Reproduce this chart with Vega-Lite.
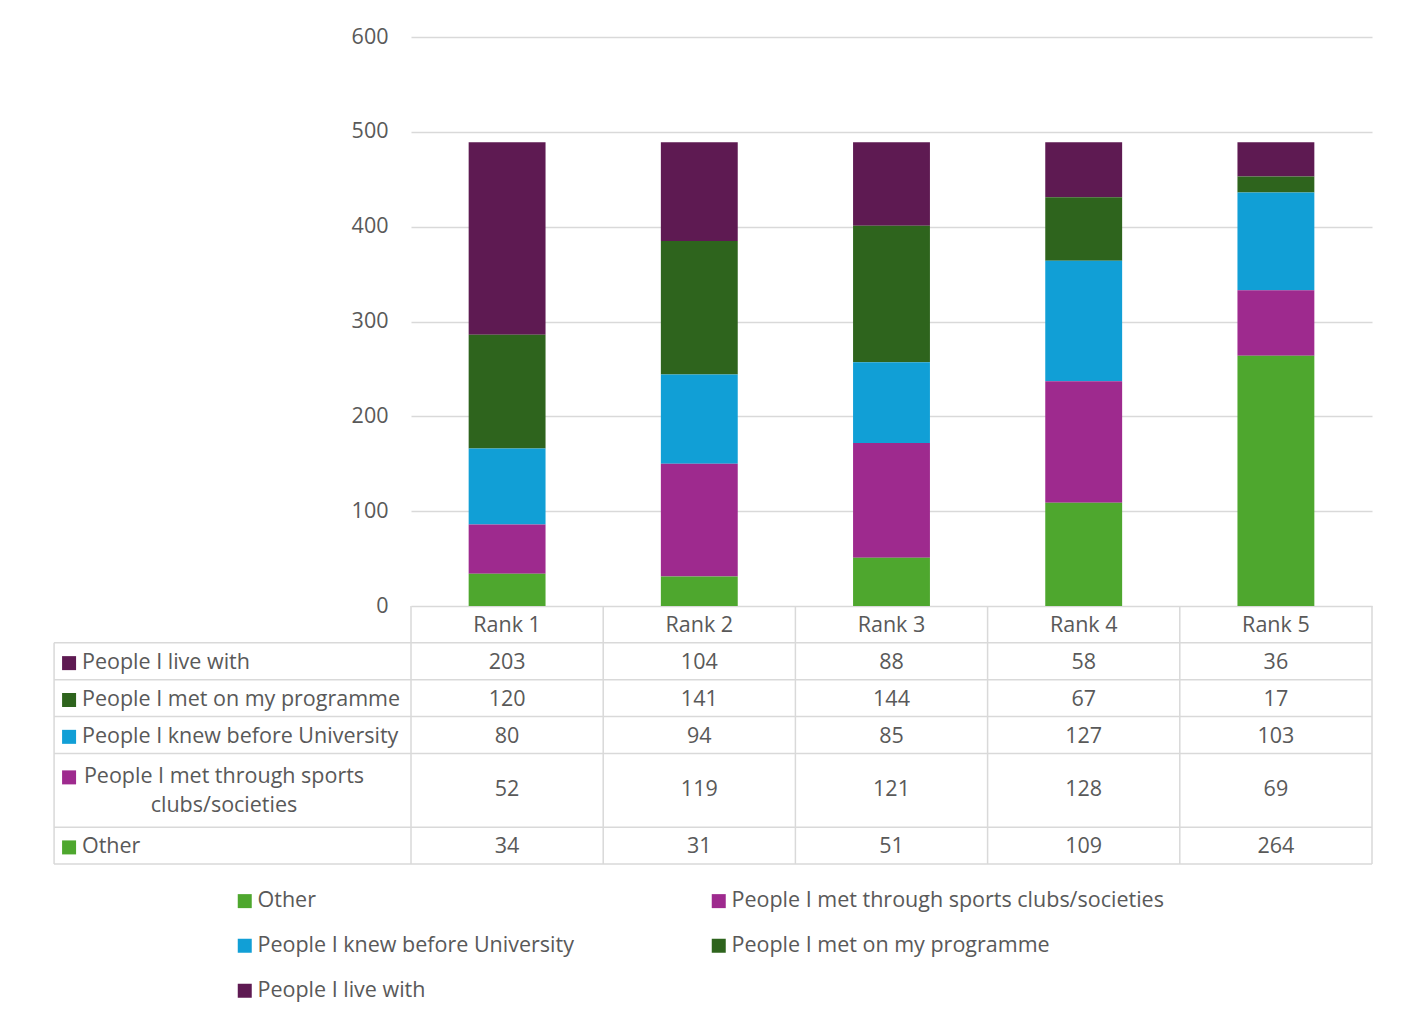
{
  "$schema": "https://vega.github.io/schema/vega-lite/v6.json",
  "padding": {"left": 53, "top": 26, "right": 0, "bottom": 0},
  "background": "white",
  "config": {"font": "Open Sans", "view": {"stroke": null}},
  "datasets": {
    "cells": [
      {"rank": "Rank 1", "series": "People I live with", "value": 203},
      {"rank": "Rank 1", "series": "People I met on my programme", "value": 120},
      {"rank": "Rank 1", "series": "People I knew before University", "value": 80},
      {"rank": "Rank 1", "series": "People I met through sports clubs/societies", "value": 52},
      {"rank": "Rank 1", "series": "Other", "value": 34},
      {"rank": "Rank 2", "series": "People I live with", "value": 104},
      {"rank": "Rank 2", "series": "People I met on my programme", "value": 141},
      {"rank": "Rank 2", "series": "People I knew before University", "value": 94},
      {"rank": "Rank 2", "series": "People I met through sports clubs/societies", "value": 119},
      {"rank": "Rank 2", "series": "Other", "value": 31},
      {"rank": "Rank 3", "series": "People I live with", "value": 88},
      {"rank": "Rank 3", "series": "People I met on my programme", "value": 144},
      {"rank": "Rank 3", "series": "People I knew before University", "value": 85},
      {"rank": "Rank 3", "series": "People I met through sports clubs/societies", "value": 121},
      {"rank": "Rank 3", "series": "Other", "value": 51},
      {"rank": "Rank 4", "series": "People I live with", "value": 58},
      {"rank": "Rank 4", "series": "People I met on my programme", "value": 67},
      {"rank": "Rank 4", "series": "People I knew before University", "value": 127},
      {"rank": "Rank 4", "series": "People I met through sports clubs/societies", "value": 128},
      {"rank": "Rank 4", "series": "Other", "value": 109},
      {"rank": "Rank 5", "series": "People I live with", "value": 36},
      {"rank": "Rank 5", "series": "People I met on my programme", "value": 17},
      {"rank": "Rank 5", "series": "People I knew before University", "value": 103},
      {"rank": "Rank 5", "series": "People I met through sports clubs/societies", "value": 69},
      {"rank": "Rank 5", "series": "Other", "value": 264}
    ],
    "ranks": [
      {"rank": "Rank 1"}, {"rank": "Rank 2"}, {"rank": "Rank 3"}, {"rank": "Rank 4"}, {"rank": "Rank 5"}
    ],
    "series": [
      {"series": "People I live with", "label": "People I live with"},
      {"series": "People I met on my programme", "label": "People I met on my programme"},
      {"series": "People I knew before University", "label": "People I knew before University"},
      {"series": "People I met through sports clubs/societies", "label": "People I met through sports\nclubs/societies"},
      {"series": "Other", "label": "Other"}
    ]
  },
  "spacing": 0,
  "bounds": "flush",
  "resolve": {"scale": {"color": "shared"}, "legend": {"color": "shared"}},
  "vconcat": [
    {
      "width": 1318,
      "height": 569,
      "data": {"name": "cells"},
      "transform": [
        {"calculate": "indexof(['Other', 'People I met through sports clubs/societies', 'People I knew before University', 'People I met on my programme', 'People I live with'], datum.series)", "as": "stack_order"}
      ],
      "mark": {"type": "bar", "width": {"band": 0.4}},
      "encoding": {
        "x": {
          "field": "rank", "type": "nominal",
          "scale": {"type": "band", "domain": ["Rank 1", "Rank 2", "Rank 3", "Rank 4", "Rank 5"], "range": [357, 1318], "paddingInner": 0, "paddingOuter": 0},
          "axis": null
        },
        "y": {
          "field": "value", "type": "quantitative", "stack": "zero",
          "scale": {"domain": [0, 600], "nice": false},
          "axis": {
            "values": [0, 100, 200, 300, 400, 500, 600],
            "grid": true, "gridColor": "#d9d9d9", "gridWidth": 1.5,
            "domain": false, "ticks": false,
            "labelFontSize": 21.5, "labelColor": "#595959", "labelFont": "Open Sans",
            "labelPadding": 23, "offset": -357, "title": null
          }
        },
        "order": {"field": "stack_order", "type": "quantitative", "sort": "ascending"},
        "color": {
          "field": "series", "type": "nominal",
          "scale": {
            "domain": ["Other", "People I met through sports clubs/societies", "People I knew before University", "People I met on my programme", "People I live with"],
            "range": ["#4ea72e", "#9e2a8e", "#119fd6", "#2e641d", "#5e1a52"]
          },
          "legend": {
            "title": null, "orient": "none", "legendX": 180, "legendY": 853,
            "columns": 2, "direction": "horizontal",
            "symbolType": "square", "symbolSize": 196, "symbolStrokeWidth": 0,
            "labelFontSize": 21.5, "labelColor": "#595959", "labelFont": "Open Sans",
            "rowPadding": 22, "columnPadding": 134, "labelOffset": 2, "padding": 0, "labelLimit": 700
          }
        }
      }
    },
    {
      "width": 1318,
      "height": 258,
      "layer": [
        {
          "data": {"name": "ranks"},
          "mark": {"type": "rule", "color": "#d9d9d9", "strokeWidth": 1.5},
          "encoding": {
            "x": {
              "field": "rank", "type": "nominal", "bandPosition": 0,
              "scale": {"type": "band", "domain": ["Rank 1", "Rank 2", "Rank 3", "Rank 4", "Rank 5"], "range": [357, 1318], "paddingInner": 0, "paddingOuter": 0},
              "axis": null
            }
          }
        },
        {
          "data": {"values": [{}]},
          "mark": {"type": "rule", "color": "#d9d9d9", "strokeWidth": 1.5},
          "encoding": {
            "x": {"datum": "Rank 5", "bandPosition": 1}
          }
        },
        {
          "data": {"name": "series"},
          "mark": {"type": "rule", "color": "#d9d9d9", "strokeWidth": 1.5},
          "encoding": {
            "y": {
              "field": "series", "type": "nominal", "bandPosition": 0,
              "scale": {"type": "band", "domain": ["header", "People I live with", "People I met on my programme", "People I knew before University", "People I met through sports clubs/societies", "sports_cont", "Other"], "paddingInner": 0, "paddingOuter": 0},
              "axis": null
            }
          }
        },
        {
          "data": {"values": [{}]},
          "mark": {"type": "rule", "color": "#d9d9d9", "strokeWidth": 1.5},
          "encoding": {
            "y": {"datum": "Other", "bandPosition": 1}
          }
        },
        {
          "data": {"values": [{}]},
          "mark": {"type": "rule", "color": "#d9d9d9", "strokeWidth": 1.5},
          "encoding": {
            "x": {"datum": "Rank 1", "bandPosition": -1.857},
            "y": {"datum": "People I live with", "bandPosition": 0},
            "y2": {"datum": "Other", "bandPosition": 1}
          }
        },
        {
          "data": {"name": "ranks"},
          "mark": {"type": "text", "fontSize": 21.5, "color": "#595959", "font": "Open Sans"},
          "encoding": {
            "x": {"field": "rank", "type": "nominal"},
            "y": {"datum": "header", "bandPosition": 0.55},
            "text": {"field": "rank", "type": "nominal"}
          }
        },
        {
          "data": {"name": "cells"},
          "transform": [{"filter": "datum.series !== 'People I met through sports clubs/societies'"}],
          "mark": {"type": "text", "fontSize": 21.5, "color": "#595959", "font": "Open Sans"},
          "encoding": {
            "x": {"field": "rank", "type": "nominal"},
            "y": {"field": "series", "type": "nominal", "bandPosition": 0.55},
            "text": {"field": "value", "type": "quantitative"}
          }
        },
        {
          "data": {"name": "cells"},
          "transform": [{"filter": "datum.series === 'People I met through sports clubs/societies'"}],
          "mark": {"type": "text", "fontSize": 21.5, "color": "#595959", "font": "Open Sans"},
          "encoding": {
            "x": {"field": "rank", "type": "nominal"},
            "y": {"field": "series", "type": "nominal", "bandPosition": 1},
            "text": {"field": "value", "type": "quantitative"}
          }
        },
        {
          "data": {"name": "series"},
          "transform": [{"filter": "datum.series !== 'People I met through sports clubs/societies'"}],
          "mark": {"type": "text", "fontSize": 21.5, "color": "#595959", "font": "Open Sans", "align": "left"},
          "encoding": {
            "x": {"datum": "Rank 1", "bandPosition": -1.712},
            "y": {"field": "series", "type": "nominal", "bandPosition": 0.55},
            "text": {"field": "label", "type": "nominal"}
          }
        },
        {
          "data": {"name": "series"},
          "transform": [{"filter": "datum.series === 'People I met through sports clubs/societies'"}],
          "mark": {"type": "text", "fontSize": 21.5, "color": "#595959", "font": "Open Sans", "align": "center", "lineBreak": "\n", "lineHeight": 29},
          "encoding": {
            "x": {"datum": "Rank 1", "bandPosition": -0.973},
            "y": {"field": "series", "type": "nominal", "bandPosition": 0.65},
            "text": {"field": "label", "type": "nominal"}
          }
        },
        {
          "data": {"name": "series"},
          "transform": [{"filter": "datum.series !== 'People I met through sports clubs/societies'"}],
          "mark": {"type": "square", "size": 196, "opacity": 1, "filled": true},
          "encoding": {
            "x": {"datum": "Rank 1", "bandPosition": -1.779},
            "y": {"field": "series", "type": "nominal", "bandPosition": 0.55},
            "color": {"field": "series", "type": "nominal"}
          }
        },
        {
          "data": {"name": "series"},
          "transform": [{"filter": "datum.series === 'People I met through sports clubs/societies'"}],
          "mark": {"type": "square", "size": 196, "opacity": 1, "filled": true},
          "encoding": {
            "x": {"datum": "Rank 1", "bandPosition": -1.779},
            "y": {"field": "series", "type": "nominal", "bandPosition": 0.65},
            "color": {"field": "series", "type": "nominal"}
          }
        }
      ]
    }
  ]
}
